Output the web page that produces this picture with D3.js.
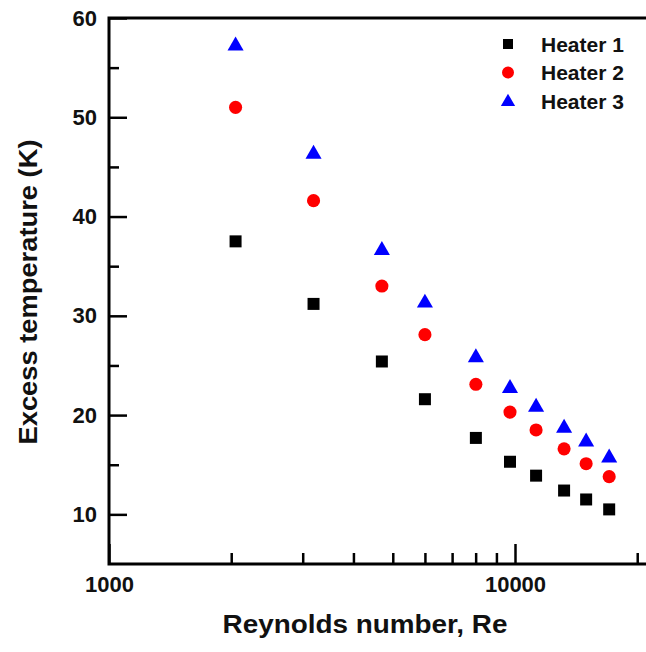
<!DOCTYPE html>
<html>
<head>
<meta charset="utf-8">
<script src="https://cdn.jsdelivr.net/npm/d3@7"></script>
<style>
  html, body { margin: 0; padding: 0; background: #fff; }
  svg { display: block; font-family: "Liberation Sans", Arial, sans-serif; }
</style>
</head>
<body>
<div id="chart"></div>
<script>
// data
const reynolds = [2050, 3190, 4700, 6000, 8010, 9720, 11270, 13210, 14970, 17060];
const heater1 = [37.5, 31.2, 25.4, 21.6, 17.7, 15.3, 13.9, 12.4, 11.5, 10.5];
const heater2 = [51.0, 41.6, 33.0, 28.1, 23.1, 20.3, 18.5, 16.6, 15.1, 13.8];
const heater3 = [57.2, 46.3, 36.6, 31.3, 25.8, 22.7, 20.8, 18.7, 17.3, 15.7];
const seriesNames = ["Heater 1", "Heater 2", "Heater 3"];
const xMajorTicks = [1000, 10000];
const xMinorTicks = [2000, 3000, 4000, 5000, 6000, 7000, 8000, 9000, 20000];
const yMajorTicks = [10, 20, 30, 40, 50, 60];
const yMinorTicks = [15, 25, 35, 45, 55];

const W = 646, H = 652;
const plotLeft = 109, plotTop = 18, plotBottom = 564;

const svg = d3.select("#chart").append("svg")
    .attr("width", W)
    .attr("height", H);

// log x, linear y
const x = d3.scaleLog().domain([1000, 30000]).range([plotLeft, plotLeft + 406 * Math.log10(30)]);
const y = d3.scaleLinear().domain([5, 60]).range([plotBottom, plotTop]);

const series = [
    { name: seriesNames[0], values: heater1, color: "#000000", shape: d3.symbolSquare, size: 144, lsize: 100 },
    { name: seriesNames[1], values: heater2, color: "#ff0000", shape: d3.symbolCircle, size: 135, lsize: 113 },
    { name: seriesNames[2], values: heater3, color: "#0000ff", shape: d3.symbolTriangle, size: 112, lsize: 88 }
];

// axes
const xAxisMajor = d3.axisBottom(x).tickValues(xMajorTicks).tickSizeInner(-20).tickSizeOuter(0).tickFormat(d3.format("d")).tickPadding(12);
const xAxisMinor = d3.axisBottom(x).tickValues(xMinorTicks).tickSizeInner(-11).tickSizeOuter(0).tickFormat("");
const yAxisMajor = d3.axisLeft(y).tickValues(yMajorTicks).tickSizeInner(-18).tickSizeOuter(0).tickPadding(12);
const yAxisMinor = d3.axisLeft(y).tickValues(yMinorTicks).tickSizeInner(-10).tickSizeOuter(0).tickFormat("");

const gx = svg.append("g").attr("transform", `translate(0,${plotBottom})`);
gx.append("g").call(xAxisMinor);
gx.append("g").call(xAxisMajor);

const gy = svg.append("g").attr("transform", `translate(${plotLeft},0)`);
gy.append("g").call(yAxisMinor);
gy.append("g").call(yAxisMajor);

svg.selectAll(".domain").remove();
svg.selectAll(".tick line").attr("stroke", "#000").attr("stroke-width", 2.5);
svg.selectAll(".tick text")
    .attr("fill", "#111")
    .style("font-size", "22px")
    .style("font-weight", "bold")
    .style("font-family", "Liberation Sans, Arial, sans-serif");

// frame
svg.append("path")
    .attr("d", `M${x.range()[1]},${plotTop}H${plotLeft}V${plotBottom}H${x.range()[1]}`)
    .attr("fill", "none")
    .attr("stroke", "#000")
    .attr("stroke-width", 3);

// points
series.forEach(s => {
    svg.append("g").selectAll("path")
        .data(s.values)
        .enter()
        .append("path")
        .attr("d", d3.symbol().type(s.shape).size(s.size))
        .attr("transform", (d, i) => `translate(${x(reynolds[i])},${y(d)})`)
        .attr("fill", s.color);
});

// legend
const legend = svg.append("g").attr("transform", "translate(508,44)");
series.forEach((s, i) => {
    const row = legend.append("g").attr("transform", `translate(0,${i * 28.5})`);
    row.append("path")
        .attr("d", d3.symbol().type(s.shape).size(s.lsize))
        .attr("transform", i === 2 ? "translate(0,1)" : null)
        .attr("fill", s.color);
    row.append("text")
        .attr("x", 33)
        .attr("y", 7.5)
        .attr("fill", "#111")
        .style("font-size", "21px")
        .style("font-weight", "bold")
        .text(s.name);
});

// axis titles
svg.append("text")
    .attr("x", 365)
    .attr("y", 633)
    .attr("text-anchor", "middle")
    .attr("fill", "#111")
    .attr("textLength", 285)
    .attr("lengthAdjust", "spacingAndGlyphs")
    .style("font-size", "25px")
    .style("font-weight", "bold")
    .text("Reynolds number, Re");

svg.append("text")
    .attr("transform", "translate(37,292) rotate(-90)")
    .attr("text-anchor", "middle")
    .attr("fill", "#111")
    .attr("textLength", 305)
    .attr("lengthAdjust", "spacingAndGlyphs")
    .style("font-size", "26px")
    .style("font-weight", "bold")
    .text("Excess temperature (K)");
</script>
</body>
</html>
